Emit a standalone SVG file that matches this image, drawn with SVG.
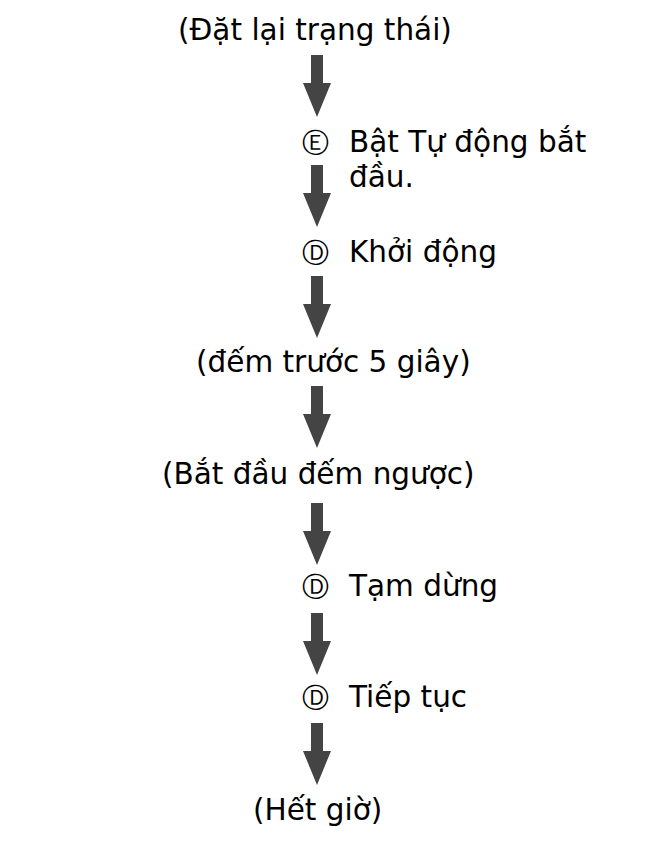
<svg xmlns="http://www.w3.org/2000/svg" width="667" height="846" viewBox="0 0 667 846">
<defs>
<style>
.t{font-family:"DejaVu Sans","Verdana",sans-serif;font-size:29.5px;fill:#000}
.c{font-family:"DejaVu Sans","Verdana",sans-serif;font-size:27px;fill:#000}
.a{fill:#444}
</style>
<path id="arr" class="a" d="M-6,0 H6 V28 H14 L0,62 L-14,28 H-6 Z"/>
</defs>
<rect width="667" height="846" fill="#fff"/>
<g id="connectors">
<use href="#arr" x="317" y="55"/>
<use href="#arr" x="317" y="165"/>
<use href="#arr" x="317" y="276"/>
<use href="#arr" x="317" y="386"/>
<use href="#arr" x="317" y="503"/>
<use href="#arr" x="317" y="613"/>
<use href="#arr" x="317" y="723"/>
</g>
<g id="n1"><text class="t" x="178" y="40">(Đặt lại trạng thái)</text></g>
<g id="n2"><text class="c" x="302" y="152">Ⓔ</text><text class="t" x="349" y="152">Bật Tự động bắt</text><text class="t" x="349" y="187">đầu.</text></g>
<g id="n3"><text class="c" x="302" y="262">Ⓓ</text><text class="t" x="349" y="262">Khởi động</text></g>
<g id="n4"><text class="t" x="196" y="372">(đếm trước 5 giây)</text></g>
<g id="n5"><text class="t" x="162" y="484">(Bắt đầu đếm ngược)</text></g>
<g id="n6"><text class="c" x="302" y="596">Ⓓ</text><text class="t" x="349" y="596">Tạm dừng</text></g>
<g id="n7"><text class="c" x="302" y="707">Ⓓ</text><text class="t" x="349" y="707">Tiếp tục</text></g>
<g id="n8"><text class="t" x="253" y="820">(Hết giờ)</text></g>
</svg>
